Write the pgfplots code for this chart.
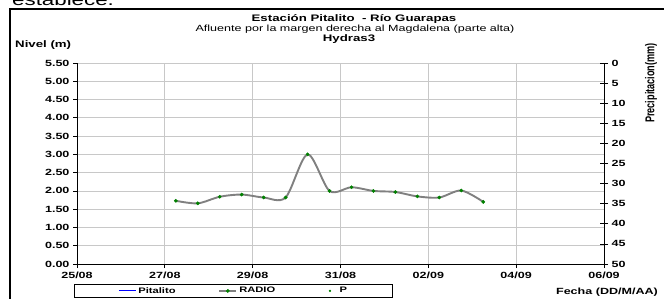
\documentclass[border=0pt]{standalone}
\usepackage{pgfplots}
\pgfplotsset{compat=1.18}
\usepackage{fontspec}
\setmainfont[FakeStretch=1.4]{Liberation Sans}
\newfontfamily\plainsans{Liberation Sans}
\definecolor{lgray}{RGB}{128,128,128}
\definecolor{dgreen}{RGB}{0,128,0}
\definecolor{gridc}{RGB}{200,200,200}

\begin{document}
\begin{tikzpicture}[x=1bp,y=1bp]
\useasboundingbox (0,0) rectangle (664,298);
\draw[line width=2.5bp] (10,-20) rectangle (720,289);
\node[anchor=base west, inner sep=0, font=\fontsize{16}{16}\selectfont] at (12,293) {establece.};

\begin{axis}[
  at={(77bp,34bp)}, anchor=south west, scale only axis,
  width=527bp, height=201bp,
  xmin=0, xmax=12, ymin=0, ymax=5.5,
  axis x line*=bottom, axis y line*=left,
  xtick={0,2,...,12},
  xticklabels={25/08,27/08,29/08,31/08,02/09,04/09,06/09},
  ytick={0,0.5,...,5.5},
  yticklabel style={/pgf/number format/.cd, fixed, fixed zerofill, precision=2},
  /pgf/number format/assume math mode=true,
  ticklabel style={font=\fontsize{9}{9}\selectfont\bfseries},
  grid=major, major grid style={gridc, line width=0.8bp},
  axis line style={black, line width=0.9bp, -},
  tick style={black, line width=0.8bp}, tick align=outside, major tick length=4bp,
  legend columns=3,
  legend style={at={(0.297,-0.134)}, anchor=center, draw=black, line width=0.8bp,
    font=\fontsize{8}{8}\selectfont\bfseries, inner ysep=0.5bp, inner xsep=44bp},
  legend cell align=left,
]
\addlegendimage{blue, line width=1bp}
\addplot[smooth, tension=0.5, color=lgray, line width=1.9bp, mark=*, mark size=1.7bp,
  mark options={draw=dgreen, fill=dgreen, line width=0.3bp}] coordinates {
  (2.25,1.73) (2.75,1.66) (3.25,1.84) (3.75,1.90) (4.25,1.82) (4.75,1.82)
  (5.25,3.00) (5.75,2.00) (6.25,2.10) (6.75,2.00) (7.25,1.97) (7.75,1.85)
  (8.25,1.82) (8.75,2.01) (9.25,1.70)};
\addlegendimage{only marks, mark=*, mark size=0.7bp, dgreen}
\legend{\makebox[78bp][l]{Pitalito}, \makebox[88bp][l]{RADIO}, \makebox[14bp][l]{\hspace{7bp}P}}
\end{axis}

\begin{axis}[
  at={(77bp,34bp)}, anchor=south west, scale only axis,
  width=527bp, height=201bp,
  xmin=0, xmax=12, ymin=0, ymax=50, y dir=reverse,
  axis y line*=right, axis x line=none,
  ytick={0,5,...,50},
  /pgf/number format/assume math mode=true,
  ticklabel style={font=\fontsize{9}{9}\selectfont\bfseries},
  axis line style={black, line width=0.9bp, -},
  tick style={black, line width=0.8bp}, tick align=center, major tick length=8bp,
]
\end{axis}

\node[font=\fontsize{9.5}{11}\selectfont\bfseries] at (354,278.5) {Estación Pitalito\ \ - Río Guarapas};
\node[font=\fontsize{9}{11}\selectfont] at (355,268.5) {Afluente por la margen derecha al Magdalena (parte alta)};
\node[font=\fontsize{9.5}{11}\selectfont\bfseries] at (349,258.5) {Hydras3};
\node[anchor=west, inner sep=0, font=\fontsize{9.5}{12}\selectfont\bfseries] at (15,253) {Nivel (m)};
\node[rotate=90, font=\plainsans\fontsize{9.2}{11}\selectfont\bfseries] at (651,215) {\scalebox{1}[1.4]{Precipitacion(mm)}};
\node[font=\fontsize{9}{11}\selectfont\bfseries] at (607,6) {Fecha (DD/M/AA)};
\end{tikzpicture}
\end{document}
